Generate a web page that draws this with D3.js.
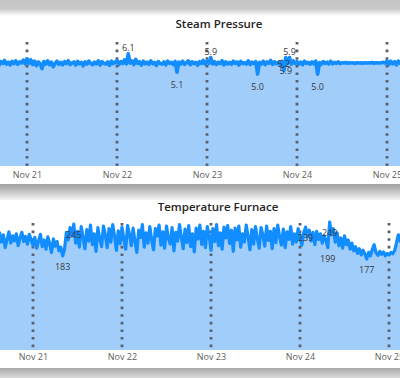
<!DOCTYPE html>
<html>
<head>
<meta charset="utf-8">
<script src="https://cdn.jsdelivr.net/npm/d3@7"></script>
<style>
body { margin: 0; background: #fff; }
svg { display: block; font-family: "Open Sans", "Segoe UI", sans-serif; }
</style>
</head>
<body>
<div id="chart"></div>
<script>
// readings every 30 minutes, starting Nov 20 14:00
var startTime = new Date(2021, 10, 20, 14, 0);
var stepMinutes = 30;

var tickDates = [new Date(2021, 10, 21), new Date(2021, 10, 22), new Date(2021, 10, 23),
                 new Date(2021, 10, 24), new Date(2021, 10, 25)];
var tickLabels = ["Nov 21", "Nov 22", "Nov 23", "Nov 24", "Nov 25"];

var steamTitle = "Steam Pressure";
var steamValues = [
    5.62,5.52,5.7,5.56,5.66,5.47,5.68,5.58,5.74,5.54,5.65,5.5,5.69,5.57,5.72,5.53,5.67,5.6,5.76,5.56,
    5.82,5.58,5.78,5.52,5.71,5.46,5.66,5.56,5.3,5.68,5.54,5.72,
    5.51,5.65,5.4,5.58,5.7,5.53,5.64,5.5,5.68,5.57,5.73,5.52,
    5.6,5.66,5.49,5.69,5.56,5.64,5.45,5.67,5.54,5.71,5.58,5.51,
    5.65,5.56,5.72,5.49,5.68,5.58,5.54,5.66,5.47,5.7,5.57,5.64,
    5.74,5.52,5.68,5.58,5.77,5.55,6.1,5.6,5.72,5.51,5.8,5.58,
    5.67,5.49,5.7,5.56,5.65,5.53,5.72,5.57,5.63,5.47,5.68,5.58,
    5.54,5.66,5.5,5.71,5.58,5.64,5.52,5.69,5.1,5.65,5.55,5.7,
    5.53,5.63,5.72,5.51,5.67,5.57,5.64,5.48,5.68,5.58,5.75,5.54,
    5.7,5.58,5.9,5.55,5.68,5.52,5.65,5.58,5.73,5.5,5.67,5.55,
    5.64,5.53,5.71,5.58,5.66,5.49,5.69,5.57,5.63,5.54,5.72,5.52,
    5.65,5.58,5.68,5.0,5.64,5.55,5.7,5.51,5.66,5.58,5.74,5.53,
    5.67,5.56,5.64,5.52,5.69,5.2,5.9,5.58,5.9,5.54,5.72,5.58,
    5.68,5.55,5.65,5.51,5.7,5.58,5.64,5.54,5.66,5.56,5.71,5.0,
    5.63,5.53,5.68,5.58,5.65,5.55,5.7,5.56,5.64,5.58,5.67,5.57,
    5.61,5.6,5.63,5.59,5.62,5.6,5.61,5.58,5.62,5.6,5.61,5.59,
    5.62,5.6,5.61,5.6,5.63,5.59,5.62,5.61,5.6,5.62,5.64,5.6,
    5.72,5.52,5.7,5.56,5.68,5.5,5.71,5.58,5.66
];
// indexes of the points that carry a data label
var steamLabelIndex = [74, 100, 118, 143, 157, 158, 160, 175];

var tempTitle = "Temperature Furnace";
var tempValues = [
    220,205,228,210,224,199,215,230,208,222,212,226,203,218,229,211,221,206,225,214,
    204,219,198,212,225,201,214,196,220,207,190,216,202,211,193,200,
    183,196,229,214,238,222,245,208,231,200,240,219,
    197,234,212,243,205,226,192,238,216,201,241,224,
    199,236,210,244,221,194,232,207,239,215,196,242,
    226,203,237,211,190,233,219,244,200,228,208,240,
    214,195,236,222,243,204,230,198,241,217,206,238,
    193,229,212,244,220,197,235,209,242,201,226,191,
    237,216,243,205,231,199,240,222,194,236,211,244,
    203,228,196,239,218,242,207,233,192,237,214,241,
    200,226,210,243,221,195,234,206,240,217,198,238,
    224,202,241,213,231,197,236,209,243,220,204,235,
    199,230,215,240,206,226,210,236,218,204,228,239,
    221,233,212,229,205,231,215,226,208,222,213,199,
    249,224,236,210,228,203,218,198,222,205,214,196,
    208,193,201,188,197,185,194,187,177,190,183,196,
    205,189,184,192,186,191,183,188,185,190,187,193,
    208,224,212,232,226
];
var tempLabelIndex = [36, 42, 167, 179, 180, 200];

var W = 400, H = 378;

var svg = d3.select("#chart").append("svg")
    .attr("width", W)
    .attr("height", H);

var defs = svg.append("defs");
defs.append("clipPath").attr("id", "clip")
    .append("rect").attr("x", 0).attr("y", 0).attr("width", W).attr("height", H);

function shade(id, y, h, stops) {
    var g = defs.append("linearGradient").attr("id", id)
        .attr("x1", 0).attr("x2", 0).attr("y1", 0).attr("y2", 1);
    stops.forEach(function(s) {
        g.append("stop").attr("offset", s[0]).attr("stop-color", s[1]);
    });
    svg.append("rect").attr("x", 0).attr("y", y).attr("width", W).attr("height", h)
        .attr("fill", "url(#" + id + ")");
}

// grey frame between the two report visuals
shade("bandTop", 0, 16, [[0, "#c4c4c4"], [0.55, "#c9c9c9"], [1, "#ffffff"]]);
shade("bandMid", 184, 16, [[0, "#a2a2a2"], [0.3, "#b6b6b6"], [1, "#f4f4f4"]]);
shade("bandBot", 368, 10, [[0, "#a8a8a8"], [0.4, "#bdbdbd"], [1, "#dcdcdc"]]);

function timeAt(i) {
    return d3.timeMinute.offset(startTime, i * stepMinutes);
}

function drawChart(cfg) {
    var x = d3.scaleTime().domain([tickDates[0], tickDates[tickDates.length - 1]])
        .range([cfg.x0, cfg.x1]);
    var y = d3.scaleLinear().domain([0, cfg.yMax]).range([cfg.bottom, cfg.top]);

    var g = svg.append("g").attr("clip-path", "url(#clip)");

    var area = d3.area()
        .x(function(d, i) { return x(timeAt(i)); })
        .y0(y(0))
        .y1(function(d) { return y(d); });
    var line = d3.line()
        .x(function(d, i) { return x(timeAt(i)); })
        .y(function(d) { return y(d); });

    g.append("path").datum(cfg.values)
        .attr("d", area)
        .attr("fill", "#a1cdfa");

    g.selectAll("line.grid")
        .data(tickDates)
        .enter()
        .append("line")
        .attr("class", "grid")
        .attr("x1", function(d) { return x(d); })
        .attr("x2", function(d) { return x(d); })
        .attr("y1", cfg.top + 1)
        .attr("y2", cfg.bottom)
        .attr("stroke", "#56626f")
        .attr("stroke-width", 2.8)
        .attr("stroke-dasharray", "2.6,5");

    g.append("path").datum(cfg.values)
        .attr("d", line)
        .attr("fill", "none")
        .attr("stroke", "#118dff")
        .attr("stroke-width", cfg.lineWidth)
        .attr("stroke-linejoin", "round");

    var axis = d3.axisBottom(x)
        .tickValues(tickDates)
        .tickFormat(function(d, i) { return tickLabels[i]; })
        .tickSize(0)
        .tickPadding(cfg.tickPad);
    var ax = g.append("g").attr("transform", "translate(0," + cfg.bottom + ")").call(axis);
    ax.select(".domain").remove();
    ax.selectAll("text")
        .attr("fill", "#605e5c")
        .style("font-size", "9px")
        .style("font-family", "'Open Sans', sans-serif");

    svg.append("text")
        .attr("x", cfg.titleX)
        .attr("y", cfg.titleY)
        .attr("text-anchor", "middle")
        .attr("fill", "#252423")
        .style("font-size", "11.5px")
        .style("font-weight", 600)
        .text(cfg.title);

    // data labels, flipped to the other side if they would overlap
    var mean = d3.mean(cfg.values);
    var fmt = d3.format(cfg.format);
    var boxes = [];
    cfg.labelIndex.slice().reverse().forEach(function(idx) {
        var v = cfg.values[idx];
        var px = x(timeAt(idx)), py = y(v);
        var above = cfg.highAbove && v > mean;
        var t = g.append("text")
            .attr("x", px)
            .attr("text-anchor", "middle")
            .attr("fill", "#3b3a39")
            .style("font-size", "9px")
            .text(fmt(v));
        t.attr("y", above ? py + cfg.dyAbove : py + cfg.dyBelow);
        var b = t.node().getBBox();
        var hit = boxes.some(function(o) {
            return b.x < o.x + o.width && o.x < b.x + b.width &&
                   b.y < o.y + o.height && o.y < b.y + b.height;
        });
        if (hit) {
            t.attr("y", above ? py + cfg.dyBelow : py + cfg.dyAbove);
            b = t.node().getBBox();
        }
        boxes.push(b);
    });
}

drawChart({
    title: steamTitle, values: steamValues, labelIndex: steamLabelIndex,
    x0: 27, x1: 387, top: 41, bottom: 166, yMax: 6.8,
    titleX: 219, titleY: 28, tickPad: 5.6, lineWidth: 3.6,
    format: ".1f", highAbove: true, dyAbove: -3, dyBelow: 16
});

drawChart({
    title: tempTitle, values: tempValues, labelIndex: tempLabelIndex,
    x0: 33, x1: 389, top: 222, bottom: 350, yMax: 249,
    titleX: 218, titleY: 211, tickPad: 4, lineWidth: 3.2,
    format: ".0f", highAbove: false, dyAbove: -4, dyBelow: 14
});
</script>
</body>
</html>
